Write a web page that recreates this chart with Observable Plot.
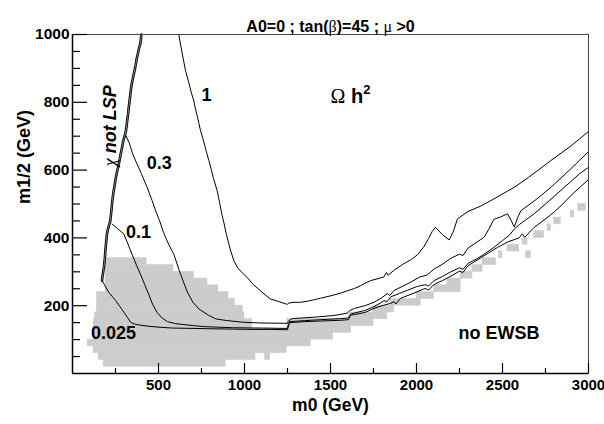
<!DOCTYPE html>
<html><head><meta charset="utf-8">
<script src="https://cdn.jsdelivr.net/npm/d3@7"></script>
<script src="https://cdn.jsdelivr.net/npm/@observablehq/plot@0.6"></script>
<style>html,body{margin:0;padding:0;background:#fff;}</style>
</head><body><div id="chart"></div>
<script>
// ---- text ----
const titleText = "A0=0 ; tan(β)=45 ; μ >0";
const xTitle = "m0 (GeV)";
const yTitle = "m1/2 (GeV)";
const xMajorTicks = [500, 1000, 1500, 2000, 2500, 3000];
const xMinorTicks = [250, 750, 1250, 1750, 2250, 2750];
const yMajorTicks = [200, 400, 600, 800, 1000];
const yMinorTicks = [50, 100, 150, 250, 300, 350, 450, 500, 550, 650, 700, 750, 850, 900, 950];

// contour labels
const labelTexts = ["1", "0.3", "0.1", "0.025", "no EWSB"];
const labelM0 = [779, 505, 384, 238, 2480];
const labelM12 = [820, 619, 418, 120, 120];
const lspLabel = "χ not LSP";
const lspLabelPos = [220, 731];
const omegaLabel = "Ω h2";
const omegaLabelPos = [1500, 799];

// ---- grey region (scan cells): m0 range and m1/2 range ----
const grayM0Lo  = [181, 152, 1120, 123, 88, 123, 123, 1045, 1250, 123, 1250, 130, 1610, 143, 1750, 143, 1850, 143, 2000, 192, 2102, 192, 2180, 192, 2257, 192, 2325, 192, 2384, 2480, 2636, 2529, 2617, 2684, 2762, 2800, 2897, 2940];
const grayM0Hi  = [890, 1064, 1150, 1245, 1385, 1515, 1045, 1260, 1620, 1045, 1750, 1000, 1830, 990, 1870, 944, 2024, 907, 2102, 848, 2257, 785, 2257, 707, 2325, 587, 2384, 431, 2461, 2500, 2665, 2597, 2646, 2742, 2781, 2839, 2917, 2985];
const grayM12Lo = [20, 40, 40, 60, 80, 100, 120, 120, 120, 140, 140, 160, 160, 180, 180, 200, 200, 220, 220, 240, 240, 260, 260, 280, 280, 300, 300, 320, 320, 340, 340, 360, 380, 400, 420, 440, 460, 480];
const grayM12Hi = [40, 60, 60, 80, 100, 120, 140, 131, 160, 160, 160, 180, 180, 200, 200, 220, 220, 240, 240, 260, 260, 280, 280, 300, 300, 320, 320, 340, 340, 360, 360, 380, 400, 420, 440, 460, 480, 500];

// ---- boundary "chi not LSP" ----
const lspLine = [[400,1000],[398,985],[393,970],[386,958],[380,943],[374,930],[368,912],[362,897],[355,880],[349,866],[343,850],[339,835],[335,818],[331,800],[327,785],[324,768],[319,750],[315,733],[311,717],[303,700],[296,688],[288,667],[281,650],[275,633],[269,618],[262,602],[256,588],[249,569],[244,552],[238,535],[233,515],[229,497],[226,480],[222,462],[220,451],[213,438],[205,424],[200,410],[197,395],[194,378],[191,362],[189,345],[186,330],[183,315],[179,303],[176,292],[173,283],[172,274]];

// ---- Omega h^2 contours ----
const contour1 = [[618,1000],[630,965],[645,925],[657,894],[675,860],[690,830],[705,805],[715,780],[725,760],[735,738],[744,717],[760,690],[775,660],[793,628],[805,605],[820,575],[841,539],[855,505],[868,470],[880,445],[895,410],[915,370],[938,333],[960,312],[985,298],[1016,283],[1050,263],[1093,244],[1120,232],[1151,220],[1200,212],[1230,207],[1249,204],[1258,208],[1287,210],[1326,210],[1365,213],[1400,217],[1442,222],[1500,229],[1559,237],[1598,244],[1640,251],[1675,259],[1700,266],[1733,274],[1770,279],[1811,285],[1825,298],[1835,290],[1870,305],[1920,322],[1970,336],[2005,350],[2040,372],[2070,398],[2090,418],[2110,431],[2150,410],[2190,394],[2215,420],[2238,456],[2300,478],[2374,494],[2450,515],[2529,538],[2568,549],[2650,578],[2781,628],[2900,672],[3000,714]];
const contour03 = [[307,705],[330,680],[350,648],[375,618],[400,590],[434,549],[463,510],[485,478],[506,451],[530,415],[560,380],[589,352],[620,305],[645,270],[668,240],[700,210],[736,190],[790,172],[833,161],[900,156],[996,151],[1093,149],[1249,148],[1258,156],[1278,162],[1400,166],[1520,171],[1598,178],[1612,186],[1640,192],[1700,200],[1753,210],[1800,224],[1830,236],[1845,230],[1870,245],[1950,265],[2020,285],[2060,290],[2102,308],[2150,322],[2200,340],[2250,352],[2270,348],[2300,370],[2393,402],[2420,425],[2450,455],[2490,462],[2529,471],[2550,452],[2568,432],[2590,462],[2607,480],[2700,515],[2781,549],[2900,605],[3000,655]];
const contour01 = [[230,441],[260,428],[298,412],[320,385],[346,352],[370,322],[395,293],[420,262],[443,234],[465,205],[492,180],[520,164],[552,153],[600,147],[705,141],[775,138],[930,135],[1100,134],[1249,133],[1256,145],[1263,153],[1350,156],[1450,159],[1560,162],[1605,164],[1612,172],[1620,176],[1700,186],[1753,197],[1790,208],[1811,215],[1830,212],[1850,226],[1900,236],[1950,246],[2000,256],[2050,262],[2070,258],[2102,274],[2150,286],[2200,300],[2250,312],[2270,307],[2300,325],[2350,338],[2393,352],[2450,372],[2500,392],[2540,408],[2568,426],[2600,440],[2640,455],[2684,471],[2750,500],[2850,545],[2950,590],[3000,608]];
const contour0025 = [[172,274],[190,258],[210,240],[230,228],[251,215],[275,198],[300,180],[320,165],[338,151],[360,146],[387,143],[450,139],[520,136],[581,134],[700,133],[800,132],[930,131],[1050,130],[1150,130],[1249,129],[1256,140],[1263,150],[1350,153],[1450,155],[1560,157],[1605,159],[1612,168],[1620,172],[1700,180],[1753,192],[1800,200],[1850,207],[1870,212],[1880,205],[1908,222],[1960,232],[2000,240],[2050,251],[2070,246],[2100,262],[2150,274],[2200,287],[2250,302],[2270,298],[2300,318],[2370,340],[2420,356],[2471,372],[2530,388],[2597,400],[2615,412],[2630,402],[2684,431],[2750,456],[2800,476],[2850,500],[2900,526],[2956,552],[3000,572]];

// ---- layout ----
const W = 604, H = 424, mL = 72, mR = 16, mT = 34, mB = 51;
const frameW = W - mL - mR, frameH = H - mT - mB;
const FONT = "'Liberation Sans', Arial, Helvetica, sans-serif";
const SERIF = "'Liberation Serif', 'DejaVu Serif', serif";

const lineOpts = (extra = {}) => ({x: d => d[0], y: d => d[1], stroke: "black", strokeWidth: 1, ...extra});

const plot = Plot.plot({
  width: W, height: H,
  marginLeft: mL, marginRight: mR, marginTop: mT, marginBottom: mB,
  x: {domain: [0, 3000]},
  y: {domain: [0, 1000]},
  style: {fontFamily: FONT, fontWeight: "bold"},
  marks: [
    Plot.rect({length: grayM0Lo.length}, {x1: grayM0Lo, x2: grayM0Hi, y1: grayM12Lo, y2: grayM12Hi, fill: "#cccccc", stroke: "#cccccc", strokeWidth: 0.6}),
    Plot.line(contour1, lineOpts()),
    Plot.line(contour03, lineOpts()),
    Plot.line(contour01, lineOpts()),
    Plot.line(contour0025, lineOpts()),
    Plot.line(lspLine, lineOpts({strokeWidth: 2.6})),
    Plot.line(lspLine, lineOpts({stroke: "#9a9a9a", strokeWidth: 0.8})),
    Plot.frame({stroke: "#444", strokeWidth: 1}),
    Plot.ruleX([0], {stroke: "black", strokeWidth: 1.5}),
    Plot.ruleY([0], {stroke: "black", strokeWidth: 1.5}),
    Plot.ruleX(xMajorTicks, {x: d => d, insetTop: frameH - 10, stroke: "black", strokeWidth: 1.2}),
    Plot.ruleX(xMinorTicks, {x: d => d, insetTop: frameH - 5, stroke: "black", strokeWidth: 1.2}),
    Plot.ruleY(yMajorTicks, {y: d => d, insetRight: frameW - 15, stroke: "black", strokeWidth: 1.2}),
    Plot.ruleY(yMinorTicks, {y: d => d, insetRight: frameW - 8, stroke: "black", strokeWidth: 1.2}),
    Plot.axisX({ticks: xMajorTicks, tickSize: 0, tickPadding: 6, tickFormat: d => String(d), fontSize: 15, fontWeight: "bold", label: null}),
    Plot.axisY({ticks: yMajorTicks, tickSize: 0, tickPadding: 3, tickFormat: d => String(d), fontSize: 15.5, fontWeight: "bold", label: null}),
    Plot.text([titleText], {text: d => d, frameAnchor: "top", dy: -14, fontSize: 16, fontWeight: "bold"}),
    Plot.text([xTitle], {text: d => d, frameAnchor: "bottom", dy: 37, fontSize: 17.5, fontWeight: "bold"}),
    Plot.text([yTitle], {text: d => d, frameAnchor: "left", dx: -48, rotate: -90, fontSize: 18, fontWeight: "bold"}),
    Plot.text(labelTexts, {x: labelM0, y: labelM12, text: labelTexts, fontSize: 18, fontWeight: "bold"}),
    Plot.text([lspLabel], {x: [lspLabelPos[0]], y: [lspLabelPos[1]], text: [lspLabel], rotate: -90, fontSize: 18, fontWeight: "bold", fontStyle: "italic"}),
    Plot.text([omegaLabel], {x: [omegaLabelPos[0]], y: [omegaLabelPos[1]], text: [omegaLabel], textAnchor: "start", lineAnchor: "bottom", fontSize: 20, fontWeight: "bold"})
  ]
});
document.getElementById("chart").appendChild(plot);

// rich text: Greek letters in a serif (Symbol-like) face
const NS = "http://www.w3.org/2000/svg";
function span(t, text, attrs) {
  const s = document.createElementNS(NS, "tspan");
  s.textContent = text;
  for (const k in attrs) s.setAttribute(k, attrs[k]);
  t.appendChild(s);
}
plot.querySelectorAll("text").forEach(t => {
  const s = t.textContent;
  if (s === omegaLabel) {
    t.textContent = "";
    span(t, "Ω", {"font-family": SERIF, "font-weight": "normal"});
    span(t, " h", {});
    span(t, "2", {"font-size": "13", "dy": "-9"});
  } else if (s === lspLabel) {
    t.textContent = "";
    span(t, "χ", {"font-family": SERIF, "font-weight": "normal"});
    span(t, " not LSP", {});
  } else if (s === titleText) {
    t.textContent = "";
    s.split(/([βμ])/).forEach(p => {
      if (p === "β" || p === "μ") span(t, p, {"font-family": SERIF, "font-weight": "normal"});
      else if (p) span(t, p, {});
    });
  }
});
</script></body></html>
